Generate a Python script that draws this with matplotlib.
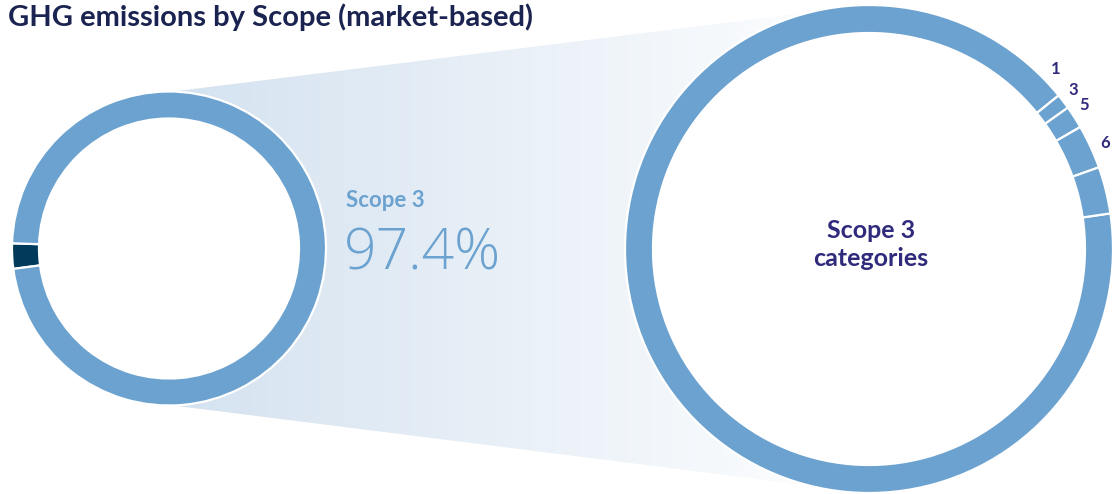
import numpy as np
import matplotlib
matplotlib.use("Agg")
import matplotlib.pyplot as plt
from matplotlib.patches import Polygon, Circle

# ---- data -------------------------------------------------------------
scope_names = ["Scope 1 & 2", "Scope 3"]
scope_share = [2.6, 97.4]

category_names = ["1", "3", "5", "6", "Other"]
category_share = [91.5, 1.0, 1.5, 2.9, 3.1]
category_labels = ["1", "3", "5", "6", ""]

title = "GHG emissions by Scope (market-based)"
highlight_name = "Scope 3"
highlight_value = 97.4

# ---- style ------------------------------------------------------------
RING_BLUE = "#6ca2cf"
NAVY = "#003b5c"
TITLE_NAVY = "#1b2350"
PURPLE = "#2f2a7c"
W, H = 1113, 494

plt.rcParams["font.family"] = ["Lato", "DejaVu Sans"]

fig = plt.figure(figsize=(W / 100, H / 100), dpi=100)
ax = fig.add_axes([0, 0, 1, 1])


def fy(y):
    """Convert a top-down pixel row into the axes' y coordinate."""
    return H - y


# geometry of the two rings
left_c, left_r, left_w = (169, fy(248.5)), 157, 27
right_c, right_r, right_w = (869, fy(249)), 244, 28

# ---- gradient band linking the two rings ------------------------------
band = Polygon([(left_c[0], fy(92)), (right_c[0], fy(5)),
                (right_c[0], fy(493)), (left_c[0], fy(405))],
               closed=True, facecolor="none", edgecolor="none")
ax.add_patch(band)
c0 = np.array([212, 226, 240]) / 255
c1 = np.array([255, 255, 255]) / 255
t = np.linspace(0, 1, 512)
grad = (c0[None, :] * (1 - t[:, None]) + c1[None, :] * t[:, None])[None, :, :]
im = ax.imshow(grad, extent=(left_c[0], right_c[0], 0, H), aspect="auto",
               interpolation="bilinear", zorder=0)
im.set_clip_path(band)

# white discs inside both rings
ax.add_patch(Circle(left_c, left_r - left_w + 1, facecolor="white", edgecolor="none", zorder=1))
ax.add_patch(Circle(right_c, right_r - right_w + 1, facecolor="white", edgecolor="none", zorder=1))

# ---- left ring: scopes -------------------------------------------------
ax.pie(scope_share, colors=[NAVY, RING_BLUE], center=left_c, radius=left_r,
       startangle=178.1, counterclock=True, frame=True,
       wedgeprops=dict(width=left_w, edgecolor="white", linewidth=1.6, zorder=3))

# ---- right ring: scope 3 categories -----------------------------------
wedges, _ = ax.pie(category_share, colors=[RING_BLUE] * len(category_share),
                   center=right_c, radius=right_r, startangle=8.4,
                   counterclock=False, frame=True,
                   wedgeprops=dict(width=right_w, edgecolor="white",
                                   linewidth=1.6, zorder=3))

# category numbers just outside the ring
for w, lab in zip(wedges, category_labels):
    if not lab:
        continue
    if lab == "1":
        # the large wedge is labelled at its closing edge
        ang = w.theta1 + 5.0
    else:
        nudge = {"3": 0.6, "5": 1.0, "6": -0.5}[lab]
        ang = (w.theta1 + w.theta2) / 2 + nudge
    rr = right_r + 15
    x = right_c[0] + rr * np.cos(np.radians(ang))
    y = right_c[1] + rr * np.sin(np.radians(ang))
    ax.text(x, y, lab, ha="center", va="center", fontsize=12,
            fontweight="bold", color=PURPLE, zorder=4)

# ---- texts -------------------------------------------------------------
ax.text(left_c[0] + 177, fy(207), highlight_name, ha="left", va="baseline",
        fontsize=16, fontweight="bold", color=RING_BLUE, zorder=4)
ax.text(left_c[0] + 175, fy(270), f"{highlight_value}%", ha="left",
        va="baseline", fontsize=41, fontweight="light", color=RING_BLUE,
        family=["Open Sans", "DejaVu Sans"], zorder=4)

ax.text(right_c[0] + 2, fy(238), "Scope 3", ha="center", va="baseline",
        fontsize=18, fontweight="bold", color=PURPLE, zorder=4)
ax.text(right_c[0] + 2, fy(266.5), "categories", ha="center", va="baseline",
        fontsize=18, fontweight="bold", color=PURPLE, zorder=4)

ax.text(8, fy(26), title, ha="left", va="baseline", fontsize=21,
        fontweight="bold", color=TITLE_NAVY, zorder=4)

ax.set_xlim(0, W)
ax.set_ylim(0, H)
ax.set_aspect("equal", adjustable="box")
ax.axis("off")

fig.savefig("out.png", dpi=100, facecolor="white")
